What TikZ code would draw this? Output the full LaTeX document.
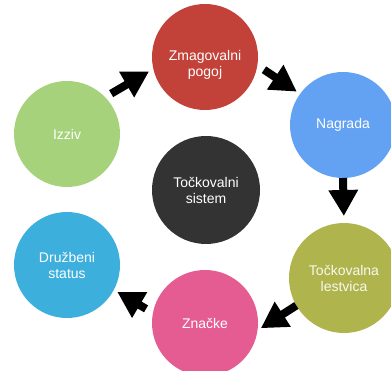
\documentclass[tikz,border=0pt]{standalone}
\usepackage{fontspec}
\setmainfont{Liberation Sans}
\usetikzlibrary{arrows.meta}
\definecolor{cred}{HTML}{C2423A}
\definecolor{cblue}{HTML}{63A1F2}
\definecolor{cgreen}{HTML}{A6D27B}
\definecolor{cdark}{HTML}{333333}
\definecolor{ccyan}{HTML}{3DAFDD}
\definecolor{colive}{HTML}{AFB44C}
\definecolor{cpink}{HTML}{E55C93}
\tikzset{
  bubble/.style={circle, minimum size=106pt, inner sep=0pt, outer sep=0pt,
    text=white, align=center, font=\fontsize{14}{16}\selectfont},
  blockarrow/.style={line width=8pt, black,
    -{Triangle[width=28pt,length=26pt]}}
}
\begin{document}
\begin{tikzpicture}[x=1pt,y=-1pt]
\useasboundingbox (0,0) rectangle (391,371);
\node[bubble, fill=cred]   (zma) at (205,57)  {\raisebox{0pt}[\dimexpr\height+16pt\relax][\depth]{\begin{tabular}{@{}c@{}}Zmagovalni\\pogoj\end{tabular}}};
\node[bubble, fill=cblue]  (nag) at (343,125) {Nagrada};
\node[bubble, fill=cgreen] (izz) at (67,134)  {Izziv};
\node[bubble, fill=cdark, minimum size=108pt]  (sis) at (206,190) {Točkovalni\\sistem};
\node[bubble, fill=ccyan]  (dru) at (67,265)  {Družbeni\\status};
\node[bubble, fill=colive, minimum size=110pt, text=white!92!colive] (les) at (344,278) {Točkovalna\\lestvica};
\node[bubble, fill=cpink]  (zna) at (205,323) {Značke};
\draw[blockarrow, shorten <=7pt, shorten >=5pt] (izz.44) -- (zma.193);
\draw[blockarrow, shorten <=8pt, shorten >=4pt] (zma.-9) -- (nag.144);
\draw[blockarrow, shorten <=0pt, shorten >=7pt] (nag.-90) -- (les.90);
\draw[blockarrow, shorten <=0pt, shorten >=4pt] (les.210) -- (zna.-8);
\draw[blockarrow, shorten <=8pt, shorten >=4pt] (zna.169) -- (dru.-28);
\end{tikzpicture}
\end{document}
